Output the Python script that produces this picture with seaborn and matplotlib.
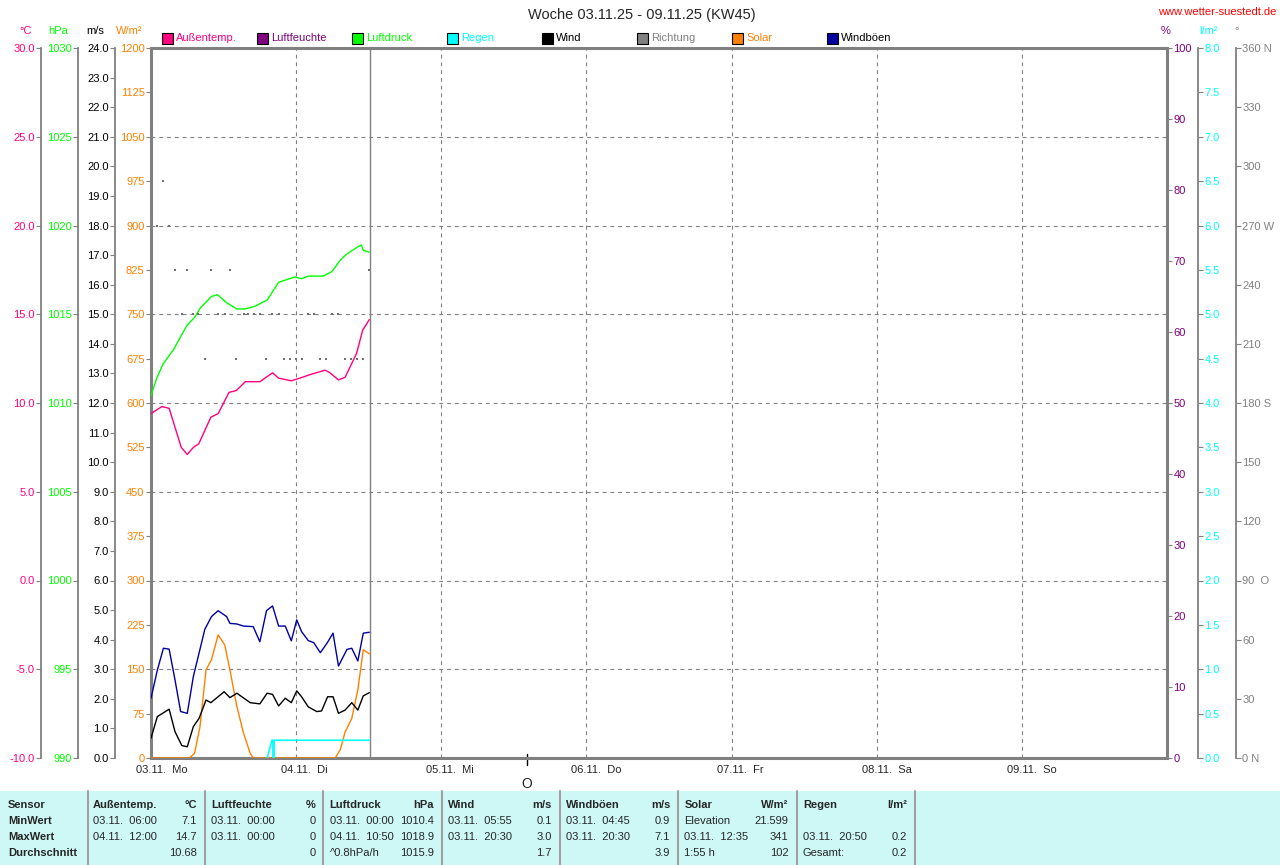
import numpy as np
import pandas as pd
import matplotlib
matplotlib.use('Agg')
import matplotlib.pyplot as plt
import matplotlib.transforms as mtransforms
from matplotlib.patches import Rectangle
import seaborn as sns

# ---- Texte ----
title = 'Woche 03.11.25 - 09.11.25 (KW45)'
site = 'www.wetter-suestedt.de'
day_labels = ['03.11.  Mo', '04.11.  Di', '05.11.  Mi', '06.11.  Do',
              '07.11.  Fr', '08.11.  Sa', '09.11.  So']

# ---- Messwerte (Stunden ab 03.11. 00:00) ----
temp_h = [0, 1.8, 3.0, 5.0, 6.0, 7.0, 7.9, 9.9, 11.1, 12.9, 14.1, 15.6, 18.0,
          20.1, 21.1, 23.2, 24.6, 26.3, 28.8, 29.6, 31.0, 32.1, 34.0, 35.0, 36.1]
temp_v = [9.4, 9.8, 9.7, 7.5, 7.1, 7.5, 7.7, 9.2, 9.4, 10.6, 10.7, 11.2, 11.2,
          11.7, 11.4, 11.25, 11.4, 11.6, 11.85, 11.7, 11.3, 11.45, 12.8, 14.1, 14.7]

press_h = [0, 0.95, 2.0, 3.7, 5.9, 7.3, 8.1, 10.0, 11.0, 12.5, 14.2, 15.6, 17.2,
           19.2, 21.1, 23.8, 24.9, 26.0, 28.5, 29.9, 31.3, 32.4, 34.2, 34.8, 35.1, 36.1]
press_v = [1010.4, 1011.4, 1012.2, 1013.0, 1014.35, 1014.86, 1015.33, 1016.0, 1016.1,
           1015.65, 1015.3, 1015.3, 1015.45, 1015.8, 1016.8, 1017.1, 1017.0, 1017.15,
           1017.15, 1017.4, 1018.05, 1018.4, 1018.8, 1018.9, 1018.6, 1018.5]

wind_h = [0, 1.05, 3.0, 3.97, 5.1, 6.0, 7.0, 7.95, 9.1, 9.9, 12.1, 13.05, 14.2, 16.4,
          18.0, 19.2, 20.1, 21.1, 22.2, 23.2, 24.1, 24.9, 26.0, 27.4, 28.2, 29.2, 30.1,
          31.0, 32.1, 33.2, 34.2, 35.1, 36.1]
wind_v = [0.67, 1.40, 1.65, 0.89, 0.42, 0.38, 1.06, 1.34, 1.96, 1.87, 2.24, 2.04, 2.19,
          1.87, 1.83, 2.19, 2.15, 1.76, 2.02, 1.87, 2.27, 2.07, 1.73, 1.57, 1.59, 2.07,
          2.07, 1.51, 1.62, 1.87, 1.62, 2.10, 2.21]

gust_h = [0, 1.05, 2.05, 3.0, 3.97, 4.9, 6.0, 7.0, 8.9, 10.0, 11.1, 12.5, 13.05, 14.2,
          15.3, 16.9, 18.0, 19.1, 20.1, 21.1, 22.2, 23.2, 24.1, 24.9, 26.0, 26.9, 28.0,
          29.1, 30.1, 31.0, 32.4, 33.2, 34.2, 35.1, 36.1]
gust_v = [2.02, 2.97, 3.71, 3.68, 2.64, 1.57, 1.51, 2.75, 4.35, 4.78, 4.98, 4.78, 4.55,
          4.53, 4.46, 4.44, 3.93, 4.98, 5.14, 4.46, 4.46, 3.96, 4.67, 4.27, 3.97, 3.90,
          3.56, 3.88, 4.22, 3.11, 3.67, 3.71, 3.28, 4.22, 4.25]

solar_h = [0, 6.35, 7.2, 8.1, 9.1, 10.0, 11.1, 12.2, 13.05, 14.2, 15.3, 16.4, 16.9,
           30.45, 31.3, 32.1, 33.2, 34.2, 35.1, 36.1]
solar_v = [0, 0, 8, 53, 149, 166, 208, 191, 149, 87, 42, 8, 0,
           0, 14, 44, 67, 115, 183, 176]

rain_h = [19.2, 20.0, 36.1]
rain_v = [0.0, 0.2, 0.2]
rain_bar_h = [20.1]
rain_bar_v = [0.2]

dir_h = [0.95, 1.93, 3.0, 3.97, 5.1, 6.0, 7.0, 7.8, 8.9, 10.0, 11.1, 12.2, 13.05, 14.1,
         15.3, 16.1, 17.0, 18.0, 19.0, 19.95, 21.1, 22.0, 23.0, 24.0, 25.0, 26.0, 26.9,
         27.9, 28.9, 29.9, 31.0, 32.1, 33.0, 34.0, 35.0, 36.1]
dir_v = [270, 292.5, 270, 247.5, 225, 247.5, 225, 225, 202.5, 247.5, 225, 225, 247.5,
         202.5, 225, 225, 225, 225, 202.5, 225, 225, 202.5, 202.5, 202.5, 202.5, 225,
         225, 202.5, 202.5, 225, 225, 202.5, 202.5, 202.5, 202.5, 247.5]

now_h = 36.17
moon_h = 62.2

# ---- Tabelle ----
tab_cols = ['Außentemp.', 'Luftfeuchte', 'Luftdruck', 'Wind', 'Windböen', 'Solar', 'Regen']
tab_units = ['°C', '%', 'hPa', 'm/s', 'm/s', 'W/m²', 'l/m²']
tab_min_t = ['03.11.  06:00', '03.11.  00:00', '03.11.  00:00', '03.11.  05:55',
             '03.11.  04:45', 'Elevation', '']
tab_min_v = ['7.1', '0', '1010.4', '0.1', '0.9', '21.599', '']
tab_max_t = ['04.11.  12:00', '03.11.  00:00', '04.11.  10:50', '03.11.  20:30',
             '03.11.  20:30', '03.11.  12:35', '03.11.  20:50']
tab_max_v = ['14.7', '0', '1018.9', '3.0', '7.1', '341', '0.2']
tab_avg_t = ['', '', '^0.8hPa/h', '', '', '1:55 h', 'Gesamt:']
tab_avg_v = ['10.68', '0', '1015.9', '1.7', '3.9', '102', '0.2']
row_names = ['Sensor', 'MinWert', 'MaxWert', 'Durchschnitt']

# Farben
c_temp = '#ff0080'
c_hum = '#800080'
c_press = '#00ff00'
c_rain = '#00ffff'
c_wind = '#000000'
c_dir = '#808080'
c_solar = '#ff8000'
c_gust = '#0000a0'
grey = '#808080'

sns.set_style('white')
plt.rcParams['font.family'] = ['Liberation Sans', 'DejaVu Sans']
plt.rcParams['font.size'] = 8

W, H = 1280, 865
fig = plt.figure(figsize=(12.8, 8.65), dpi=100)


def fx(px):
    return px / W


def fy(py):
    return 1 - py / H


L, R, T, B = 151, 1167, 48, 758
ax = fig.add_axes([fx(L), fy(B), (R - L) / W, (B - T) / H])
ax.set_xlim(0, 168)
ax.set_ylim(0, 1200)
for s in ax.spines.values():
    s.set_color(grey)
    s.set_linewidth(2.2)

# Gitter
for v in np.arange(150, 1200, 150):
    ax.axhline(v, color=grey, lw=0.8, ls=(0, (3.5, 3.5)), zorder=0.5)
for d in range(1, 7):
    ax.axvline(d * 24, color=grey, lw=0.8, ls=(0, (3.5, 3.5)), zorder=0.5)
ax.axvline(now_h, color=grey, lw=1.0, zorder=0.6)

ax.set_yticks(np.arange(0, 1201, 75), [f'{v:d}' for v in np.arange(0, 1201, 75)])
ax.tick_params(axis='y', left=True, length=3.6, width=0.8, pad=1, colors=grey,
               labelcolor=c_solar, labelsize=8)
ax.set_xticks(np.arange(0, 168, 24), day_labels)
ax.tick_params(axis='x', bottom=True, length=0, pad=5, labelsize=8)
off = mtransforms.ScaledTranslation(-15 / 100, 0, fig.dpi_scale_trans)
for lab in ax.get_xticklabels():
    lab.set_horizontalalignment('left')
    lab.set_transform(lab.get_transform() + off)


def make_axis(lim, side, pos, color, ticks, labels, show_spine=True):
    a = ax.twinx()
    a.set_ylim(*lim)
    for s in a.spines.values():
        s.set_visible(False)
    sp = a.spines[side]
    sp.set_visible(show_spine)
    sp.set_position(('axes', pos))
    sp.set_color(grey)
    sp.set_linewidth(1.3)
    if side == 'left':
        a.yaxis.tick_left()
    else:
        a.yaxis.tick_right()
    a.set_yticks(ticks, labels)
    a.tick_params(axis='y', length=3.6, width=0.8, pad=1, colors=grey,
                  labelcolor=color, labelsize=8)
    return a


t_ticks = np.arange(-10, 30.1, 5)
ax_t = make_axis((-10, 30), 'left', (41 - L) / (R - L), c_temp, t_ticks,
                 [f'{v:.1f}' for v in t_ticks])
p_ticks = np.arange(990, 1031, 5)
ax_p = make_axis((990, 1030), 'left', (78 - L) / (R - L), c_press, p_ticks,
                 [f'{v:d}' for v in p_ticks])
w_ticks = np.arange(0, 24.1, 1)
ax_w = make_axis((0, 24), 'left', (115 - L) / (R - L), 'black', w_ticks,
                 [f'{v:.1f}' for v in w_ticks])
h_ticks = np.arange(0, 101, 10)
ax_h = make_axis((0, 100), 'right', 1.0, c_hum, h_ticks,
                 [f'{v:d}' for v in h_ticks], show_spine=False)
r_ticks = np.arange(0, 8.01, 0.5)
ax_r = make_axis((0, 8), 'right', (1198 - L) / (R - L), c_rain, r_ticks,
                 [f'{v:.1f}' for v in r_ticks])
d_ticks = np.arange(0, 361, 30)
d_names = {0: ' N', 90: '  O', 180: ' S', 270: ' W', 360: ' N'}
ax_d = make_axis((0, 360), 'right', (1236 - L) / (R - L), c_dir, d_ticks,
                 [f'{v:d}{d_names.get(v, "")}' for v in d_ticks])

# Kurven
sns.scatterplot(x=dir_h, y=dir_v, ax=ax_d, color='#707070', marker='s', s=2.5,
                linewidth=0, zorder=3)
sns.lineplot(x=solar_h, y=solar_v, ax=ax, color=c_solar, lw=1.0,
             estimator=None, sort=False, zorder=3)
sns.lineplot(x=rain_h, y=rain_v, ax=ax_r, color=c_rain, lw=1.2,
             estimator=None, sort=False)
ax_r.vlines(rain_bar_h, 0, rain_bar_v, color=c_rain, lw=2)
sns.lineplot(x=wind_h, y=wind_v, ax=ax_w, color=c_wind, lw=1.0,
             estimator=None, sort=False)
sns.lineplot(x=gust_h, y=gust_v, ax=ax_w, color=c_gust, lw=1.0,
             estimator=None, sort=False)
sns.lineplot(x=press_h, y=press_v, ax=ax_p, color=c_press, lw=1.0,
             estimator=None, sort=False)
sns.lineplot(x=temp_h, y=temp_v, ax=ax_t, color=c_temp, lw=1.0,
             estimator=None, sort=False)
for a in [ax, ax_t, ax_p, ax_w, ax_h, ax_r, ax_d]:
    a.set_xlabel('')
    a.set_ylabel('')
ax.set_xlim(0, 168)

# Vollmond
trans = mtransforms.blended_transform_factory(ax.transData, ax.transAxes)
ax.plot([moon_h, moon_h], [0.0056, -0.0099], transform=trans, color='black',
        lw=1, clip_on=False)
ax.text(moon_h, -0.036, 'O', transform=trans, ha='center', va='center', fontsize=10)

# Kopf
fig.text(fx(642), fy(15), title, ha='center', va='center', fontsize=10.5)
fig.text(fx(1276), fy(12), site, ha='right', va='center', fontsize=8, color='#ff0000')
for txt, x, col in [('°C', 26, c_temp), ('hPa', 58, c_press), ('m/s', 95, 'black'),
                    ('W/m²', 129, c_solar), ('%', 1166, c_hum),
                    ('l/m²', 1209, c_rain), ('°', 1237, c_dir)]:
    fig.text(fx(x), fy(31), txt, ha='center', va='center', fontsize=8, color=col)

legend = [('Außentemp.', c_temp, c_temp), ('Luftfeuchte', c_hum, c_hum),
          ('Luftdruck', c_press, c_press), ('Regen', c_rain, c_rain),
          ('Wind', c_wind, 'black'), ('Richtung', c_dir, c_dir),
          ('Solar', c_solar, c_solar), ('Windböen', c_gust, 'black')]
for i, (name, col, tcol) in enumerate(legend):
    x0 = 162 + i * 95
    fig.patches.append(Rectangle((fx(x0), fy(44)), 11 / W, 11 / H,
                                 transform=fig.transFigure, facecolor=col,
                                 edgecolor='black', lw=0.8))
    fig.text(fx(x0 + 14), fy(38), name, color=tcol, va='center', fontsize=8)

# Tabelle unten
fig.patches.append(Rectangle((0, 0), 1, fy(791), transform=fig.transFigure,
                             facecolor='#cdf8f6', edgecolor='none', zorder=0))
rows_y = [805, 821, 837, 853]
for name, y in zip(row_names, rows_y):
    fig.text(fx(8), fy(y), name, va='center', fontsize=8, fontweight='bold')
fig.add_artist(plt.Line2D([fx(88)] * 2, [fy(791), 0], color='#a0a0a0', lw=1.5))
for i, col in enumerate(tab_cols):
    xl = 93 + i * 118.3
    xr = xl + 104
    fig.text(fx(xl), fy(rows_y[0]), col, va='center', fontsize=8, fontweight='bold')
    fig.text(fx(xr), fy(rows_y[0]), tab_units[i], va='center', ha='right',
             fontsize=8, fontweight='bold')
    for y, lt, lv in [(rows_y[1], tab_min_t[i], tab_min_v[i]),
                      (rows_y[2], tab_max_t[i], tab_max_v[i]),
                      (rows_y[3], tab_avg_t[i], tab_avg_v[i])]:
        fig.text(fx(xl), fy(y), lt, va='center', fontsize=8)
        fig.text(fx(xr), fy(y), lv, va='center', ha='right', fontsize=8)
    xs = xl + 112
    fig.add_artist(plt.Line2D([fx(xs)] * 2, [fy(791), 0], color='#a0a0a0', lw=1.5))

fig.savefig('out.png', dpi=100)
